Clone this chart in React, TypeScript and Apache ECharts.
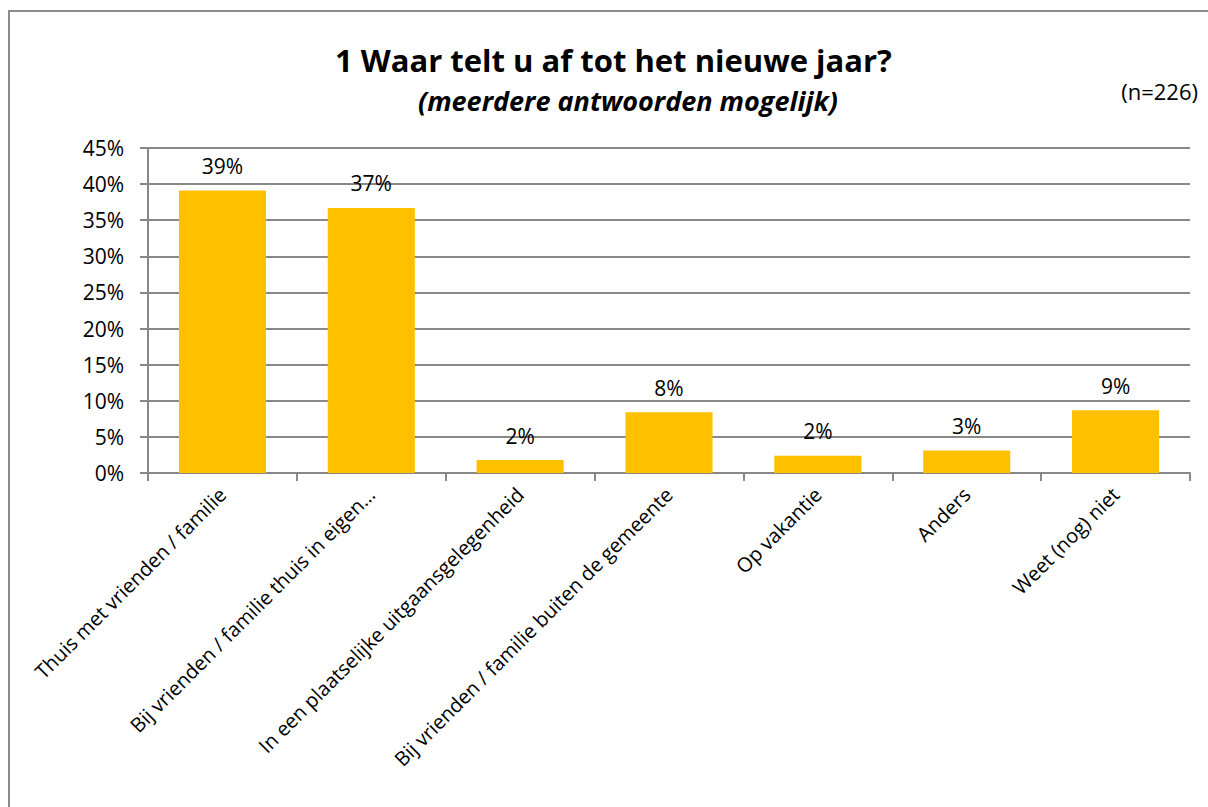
import React, { useEffect, useRef } from "react";
import * as echarts from "echarts";

const categories = [
  "Thuis met vrienden / familie",
  "Bij vrienden / familie thuis in eigen…",
  "In een plaatselijke uitgaansgelegenheid",
  "Bij vrienden / familie buiten de gemeente",
  "Op vakantie",
  "Anders",
  "Weet (nog) niet",
];
const values = [39.1, 36.7, 1.8, 8.4, 2.4, 3.1, 8.7];
const yTicks = { min: 0, max: 45, interval: 5 };
const titleText = "1 Waar telt u af tot het nieuwe jaar?";
const subtitleText = "(meerdere antwoorden mogelijk)";
const sampleText = "(n=226)";

const FONT = "'Open Sans', 'Noto Sans', sans-serif";

export default function App() {
  const ref = useRef<HTMLDivElement>(null);
  useEffect(() => {
    if (!ref.current) return;
    const chart = echarts.init(ref.current, null, { renderer: "svg" });
    chart.setOption({
      animation: false,
      backgroundColor: "#ffffff",
      title: [
        {
          text: titleText,
          left: 330,
          top: 39,
          textStyle: { fontFamily: FONT, fontSize: 31, fontWeight: "bold", color: "#000" },
        },
        {
          text: subtitleText,
          left: 413,
          top: 82,
          textStyle: {
            fontFamily: FONT,
            fontSize: 27,
            fontWeight: "bold",
            fontStyle: "italic",
            color: "#000",
          },
        },
        {
          text: sampleText,
          right: 5,
          top: 75,
          textStyle: { fontFamily: FONT, fontSize: 22, fontWeight: "normal", color: "#000" },
        },
      ],
      graphic: [
        {
          type: "rect",
          shape: { x: 9, y: 11, width: 1400, height: 1000 },
          style: { fill: "none", stroke: "#8c8c8c", lineWidth: 2 },
          silent: true,
        },
      ],
      grid: { left: 148, right: 18, top: 148, bottom: 334, containLabel: false },
      xAxis: {
        type: "category",
        data: categories,
        axisLine: { show: true, lineStyle: { color: "#888888", width: 2 } },
        axisTick: { show: true, length: 8, alignWithLabel: false, lineStyle: { color: "#888888", width: 2 } },
        axisLabel: {
          interval: 0,
          rotate: 45,
          margin: 18,
          fontFamily: FONT,
          fontSize: 20,
          color: "#000",
        },
      },
      yAxis: {
        type: "value",
        min: yTicks.min,
        max: yTicks.max,
        interval: yTicks.interval,
        axisLine: { show: true, lineStyle: { color: "#888888", width: 2 } },
        axisTick: { show: true, length: 8, inside: false, lineStyle: { color: "#888888", width: 2 } },
        splitLine: { show: true, lineStyle: { color: "#888888", width: 2 } },
        axisLabel: {
          margin: 24,
          fontFamily: FONT,
          fontSize: 21,
          color: "#000",
          formatter: (v: number) => `${v}%`,
        },
      },
      series: [
        {
          type: "bar",
          data: values,
          barCategoryGap: "41.5%",
          itemStyle: { color: "#FFC000" },
          label: {
            show: true,
            position: "top",
            distance: 14,
            fontFamily: FONT,
            fontSize: 21,
            color: "#000",
            formatter: (p: any) => `${Math.round(p.value)}%`,
          },
        },
      ],
    });
    return () => chart.dispose();
  }, []);
  return (
    <div
      ref={ref}
      style={{ position: "fixed", left: 0, top: 0, width: 1208, height: 807 }}
    />
  );
}
